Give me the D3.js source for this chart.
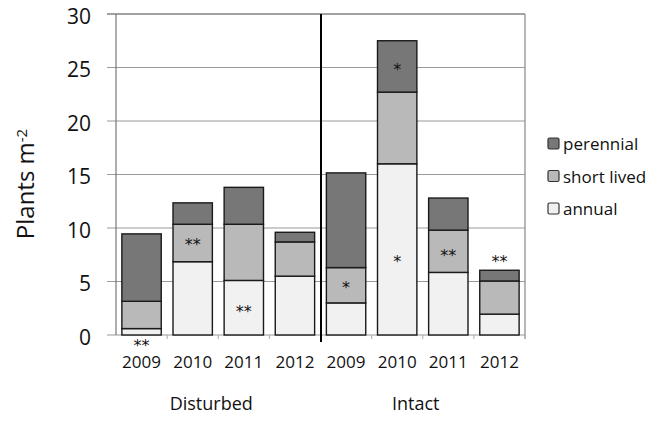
<!DOCTYPE html>
<html>
<head>
<meta charset="utf-8">
<script src="https://cdn.jsdelivr.net/npm/d3@7"></script>
<style>
  body { margin: 0; background: #fff; }
  svg { font-family: "Open Sans", sans-serif; }
</style>
</head>
<body>
<script>
// categories (site x year)
const years = ['2009', '2010', '2011', '2012'];
const sites = ['Disturbed', 'Intact'];

// series values, in plants per m2
const annual = [0.6, 6.85, 5.1, 5.5, 3.0, 16.0, 5.85, 1.95];
const shortLived = [2.55, 3.5, 5.25, 3.2, 3.3, 6.7, 3.95, 3.1];
const perennial = [6.3, 2.0, 3.45, 0.9, 8.85, 4.8, 3.0, 1.0];

const yTicks = [0, 5, 10, 15, 20, 25, 30];

// significance marks: bar index, y position (data units), label
const stars = [
  { i: 0, y: -0.6, label: '**' },
  { i: 1, y: 8.8, label: '**' },
  { i: 2, y: 2.6, label: '**' },
  { i: 4, y: 4.8, label: '*' },
  { i: 5, y: 25.2, label: '*' },
  { i: 5, y: 7.2, label: '*' },
  { i: 6, y: 7.8, label: '**' },
  { i: 7, y: 7.2, label: '**' }
];

const seriesKeys = ['annual', 'short', 'perennial'];
const seriesNames = { annual: 'annual', short: 'short lived', perennial: 'perennial' };
const colors = { annual: '#f1f1f1', short: '#b9b9b9', perennial: '#777777' };

const rows = [];
sites.forEach((s, si) => years.forEach((y, yi) => {
  const k = si * 4 + yi;
  rows.push({ id: s + y, year: y, site: s, annual: annual[k], short: shortLived[k], perennial: perennial[k] });
}));

const W = 658, H = 422;
const margin = { top: 14, right: 133, bottom: 87, left: 116 };
const width = W - margin.left - margin.right;
const height = H - margin.top - margin.bottom;

const svg = d3.select('body').append('svg')
  .attr('width', W)
  .attr('height', H);

const g = svg.append('g')
  .attr('transform', `translate(${margin.left},${margin.top})`);

const x = d3.scaleBand()
  .domain(rows.map(d => d.id))
  .range([0, width])
  .paddingInner(0.23)
  .paddingOuter(0.115);

const y = d3.scaleLinear()
  .domain([0, 30])
  .range([height, 0]);

// gridlines
g.append('g')
  .selectAll('line')
  .data(yTicks)
  .enter().append('line')
  .attr('x1', -9)
  .attr('x2', width)
  .attr('y1', d => y(d))
  .attr('y2', d => y(d))
  .attr('stroke', d => d === 30 ? '#444' : '#9a9a9a')
  .attr('stroke-width', 1.2);

// frame
g.append('line')
  .attr('x1', 0).attr('x2', 0)
  .attr('y1', 0).attr('y2', height)
  .attr('stroke', '#777').attr('stroke-width', 1.2);
g.append('line')
  .attr('x1', width).attr('x2', width)
  .attr('y1', 0).attr('y2', height + 4)
  .attr('stroke', '#888').attr('stroke-width', 1.2);

// x tick marks between bars
const step = x.step();
g.append('g')
  .selectAll('line')
  .data(d3.range(1, rows.length))
  .enter().append('line')
  .attr('x1', i => i * step)
  .attr('x2', i => i * step)
  .attr('y1', height)
  .attr('y2', height + 4)
  .attr('stroke', '#aaa');

// y tick labels
g.append('g')
  .selectAll('text')
  .data(yTicks)
  .enter().append('text')
  .attr('x', -25)
  .attr('y', d => y(d) + 2)
  .attr('dy', '0.36em')
  .attr('text-anchor', 'end')
  .style('font-size', '21px')
  .style('fill', '#111')
  .text(d => d);

// stacked bars
const stack = d3.stack().keys(seriesKeys);
const layers = stack(rows);

g.append('g')
  .selectAll('g')
  .data(layers)
  .enter().append('g')
  .attr('fill', d => colors[d.key])
  .selectAll('rect')
  .data(d => d)
  .enter().append('rect')
  .attr('x', d => x(d.data.id))
  .attr('y', d => y(d[1]))
  .attr('width', x.bandwidth())
  .attr('height', d => y(d[0]) - y(d[1]))
  .attr('stroke', '#1a1a1a')
  .attr('stroke-width', 1.4);

// divider between sites
g.append('line')
  .attr('x1', 4 * step + 0.5)
  .attr('x2', 4 * step + 0.5)
  .attr('y1', 0)
  .attr('y2', height + 7)
  .attr('stroke', '#000')
  .attr('stroke-width', 2);

// significance stars
g.append('g')
  .selectAll('text')
  .data(stars)
  .enter().append('text')
  .attr('x', d => x(rows[d.i].id) + x.bandwidth() / 2)
  .attr('y', d => y(d.y))
  .attr('dy', '0.59em')
  .attr('text-anchor', 'middle')
  .style('font-size', '16px')
  .style('font-family', '"DejaVu Sans", sans-serif')
  .style('fill', '#111')
  .text(d => d.label);

// year labels
g.append('g')
  .selectAll('text')
  .data(rows)
  .enter().append('text')
  .attr('x', d => x(d.id) + x.bandwidth() / 2)
  .attr('y', height + 33)
  .attr('text-anchor', 'middle')
  .style('font-size', '17px')
  .style('fill', '#111')
  .text(d => d.year);

// site labels
g.append('g')
  .selectAll('text')
  .data(sites)
  .enter().append('text')
  .attr('x', (d, i) => (i * 4 + 2) * step - 7)
  .attr('y', height + 75)
  .attr('text-anchor', 'middle')
  .style('font-size', '18px')
  .style('fill', '#111')
  .text(d => d);

// y axis title
const yt = svg.append('text')
  .attr('transform', `translate(34,${margin.top + 170}) rotate(-90)`)
  .attr('text-anchor', 'middle')
  .style('font-size', '24px')
  .style('fill', '#111');
yt.append('tspan').text('Plants m');
yt.append('tspan').attr('dy', '-0.5em').style('font-size', '15px').text('-2');

// legend
const legendKeys = ['perennial', 'short', 'annual'];
const legend = svg.append('g')
  .attr('transform', 'translate(548,138)')
  .selectAll('g')
  .data(legendKeys)
  .enter().append('g')
  .attr('transform', (d, i) => `translate(0,${i * 32.5})`);

legend.append('rect')
  .attr('width', 11)
  .attr('height', 11)
  .attr('rx', 1.5)
  .attr('fill', d => colors[d])
  .attr('stroke', '#333')
  .attr('stroke-width', 1.2);

legend.append('text')
  .attr('x', 15)
  .attr('y', 12)
  .style('font-size', '17px')
  .style('fill', '#111')
  .text(d => seriesNames[d]);
</script>
</body>
</html>
